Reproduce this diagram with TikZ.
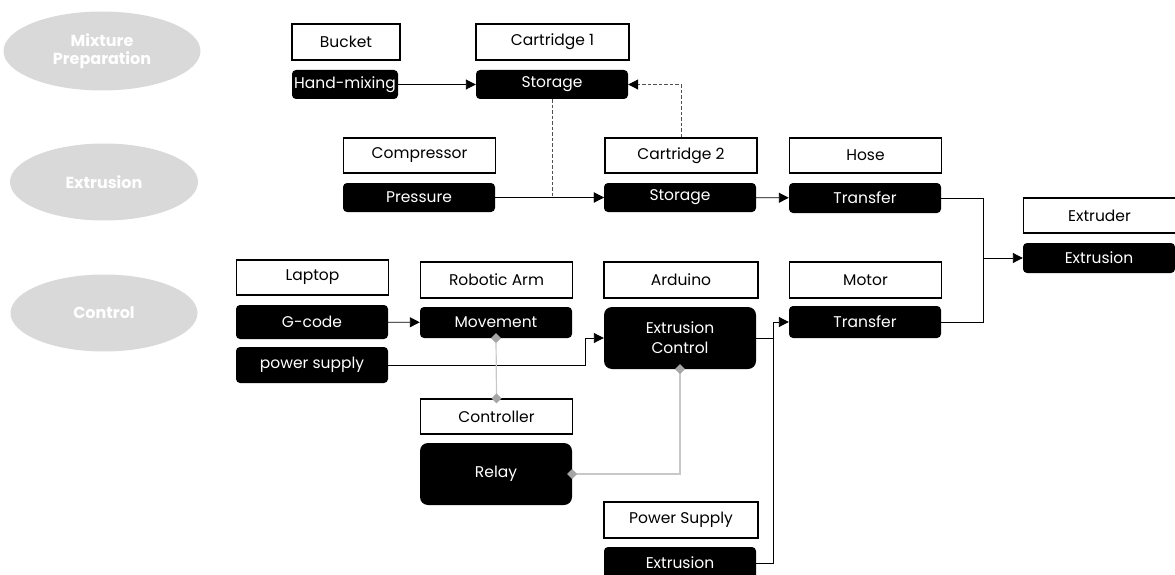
\documentclass[tikz,border=0pt]{standalone}
\usepackage{fontspec}
\setmainfont{Poppins}
\usetikzlibrary{arrows.meta,shapes.geometric}
\definecolor{ellgray}{HTML}{D9D9D9}
\definecolor{lgray}{HTML}{C8C8C8}
\definecolor{dgray}{HTML}{A6A6A6}
\definecolor{dashc}{HTML}{505050}
\tikzset{
  wbox/.style={draw=black, line width=1.4pt, fill=white, inner sep=0pt, font=\fontsize{15.5}{17}\selectfont, minimum width=152pt, minimum height=35pt},
  bbox/.style={fill=black, rounded corners=4pt, text=white, inner sep=0pt, font=\fontsize{15.5}{20}\selectfont, minimum width=152pt, minimum height=30pt, align=center},
  stage/.style={ellipse, fill=ellgray, text=white, inner sep=0pt, font=\fontsize{16}{18}\selectfont\bfseries, align=center},
  conn/.style={line width=0.9pt, -{Triangle[length=10pt,width=10pt]}},
  plain/.style={line width=0.9pt},
  dconn/.style={line width=1pt, dashc, dash pattern=on 3.5pt off 2pt, -{Triangle[length=10pt,width=10pt,color=black]}},
  gconn/.style={line width=1.2pt, lgray, shorten <=-5pt, shorten >=-5pt, {Turned Square[length=10pt,width=10pt,color=dgray]}-{Turned Square[length=10pt,width=10pt,color=dgray]}}
}
\begin{document}
\begin{tikzpicture}[x=1pt,y=-1pt]
\useasboundingbox (0,0) rectangle (1175,575);
% stages
\node[stage, minimum width=197pt, minimum height=79pt] (s1) at (102,51) {Mixture\\Preparation};
\node[stage, minimum width=188pt, minimum height=77pt] (s2) at (104,182) {Extrusion};
\node[stage, minimum width=187pt, minimum height=77pt] (s3) at (104,313) {Control};
% row 1
\node[wbox, minimum width=108pt, minimum height=36pt] (bucket) at (346,42) {Bucket};
\node[bbox, minimum width=106pt, minimum height=29pt] (hand) at (345,84.5) {Hand-mixing};
\node[wbox, minimum width=153pt, minimum height=36pt] (cart1) at (552.5,42) {Cartridge 1};
\node[bbox, minimum height=29pt] (stor1) at (552,84.5) {Storage};
% row 2
\node[wbox] (compr) at (419.5,155.5) {Compressor};
\node[bbox, minimum height=29pt] (press) at (419,197.5) {Pressure};
\node[wbox] (cart2) at (681,155.5) {Cartridge 2};
\node[bbox, minimum height=29pt] (stor2) at (680,197.5) {Storage};
\node[wbox] (hose) at (865.5,155.5) {Hose};
\node[bbox, minimum height=30pt] (transH) at (865,198) {Transfer};
\node[wbox] (extruder) at (1099.5,215.5) {Extruder};
\node[bbox, minimum height=30pt] (extr) at (1099,258) {Extrusion};
% row 3
\node[wbox] (laptop) at (312.5,277.5) {Laptop};
\node[bbox, minimum height=34pt] (gcode) at (312,322) {G-code};
\node[bbox, minimum height=36pt] (psup) at (312,365) {power supply};
\node[wbox, minimum height=36pt] (robot) at (496.5,280) {Robotic Arm};
\node[bbox, minimum height=31pt] (move) at (496,322.5) {Movement};
\node[wbox, minimum width=154pt, minimum height=36pt] (ard) at (681,280) {Arduino};
\node[bbox, minimum height=62pt, rounded corners=8pt] (ectl) at (680,338) {Extrusion\\Control};
\node[wbox, minimum height=36pt] (motor) at (865.5,280) {Motor};
\node[bbox, minimum height=32pt] (transM) at (865,322) {Transfer};
% row 4
\node[wbox] (contr) at (496.5,416.5) {Controller};
\node[bbox, minimum height=62pt, rounded corners=8pt] (relay) at (496,474) {Relay};
\node[wbox, minimum width=154pt, minimum height=36pt] (pws) at (681,520) {Power Supply};
\node[bbox, minimum height=32pt] (extrPS) at (680,563) {Extrusion};
% helper coordinates
\coordinate (j) at (983,258);
\coordinate (k) at (585,365);
\coordinate (m) at (773,322);
% connectors
\draw[conn] (hand) -- (stor1);
\draw[dconn] (stor1.south) |- (stor2.west);
\draw[dconn] (cart2.north) |- (stor1.east);
\draw[conn] (press) -- (stor2);
\draw[conn] (stor2) -- (transH);
\draw[plain] (transH.east) -| (j);
\draw[plain] (transM.east) -| (j);
\draw[conn] (j) -- (extr.west);
\draw[conn] (gcode) -- (move);
\draw[conn] (psup.east) -- (k) |- (ectl.west);
\draw[plain] (ectl.east) -- (ectl.east -| m);
\draw[conn] (extrPS.east) -| (m) -- (transM.west);
\draw[gconn] (move.south) -- (contr.north);
\draw[gconn] (ectl.south) |- (relay.east);
\end{tikzpicture}
\end{document}
